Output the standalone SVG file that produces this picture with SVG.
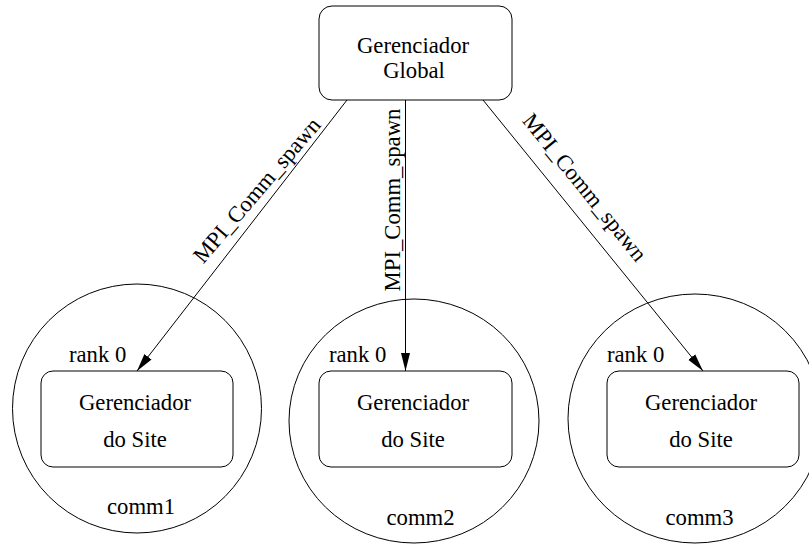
<svg xmlns="http://www.w3.org/2000/svg" width="809" height="546" viewBox="0 0 809 546">
  <style>
    .shape { fill: none; stroke: #000; stroke-width: 1; }
    .box { fill: #fff; stroke: #000; stroke-width: 1; }
    .edge { fill: none; stroke: #000; stroke-width: 1; }
    .lbl { font-family: 'Liberation Serif', 'DejaVu Serif', serif; font-size: 22.7px; fill: #000; }
    .c { text-anchor: middle; }
  </style>
  <defs>
    <marker id="arrow" viewBox="0 0 18 10" refX="18" refY="5" markerWidth="18" markerHeight="10" markerUnits="userSpaceOnUse" orient="auto">
      <path d="M0,0.5 L18,5 L0,9.5 Z" fill="#000"/>
    </marker>
  </defs>
  <rect width="809" height="546" fill="#fff"/>

  <g font-family="Liberation Serif, serif" class="lbl">
  <!-- communicator domains -->
  <g id="comm1">
    <ellipse class="shape" cx="137" cy="408.5" rx="124.5" ry="124.5"/>
    <text x="69" y="362">rank 0</text>
    <text class="c" x="141" y="514">comm1</text>
  </g>
  <g id="comm2">
    <ellipse class="shape" cx="414" cy="421" rx="125" ry="122"/>
    <text x="329" y="362">rank 0</text>
    <text class="c" x="420.5" y="525">comm2</text>
  </g>
  <g id="comm3">
    <ellipse class="shape" cx="695" cy="418.5" rx="127" ry="124.5"/>
    <text x="607" y="362">rank 0</text>
    <text class="c" x="699.5" y="525">comm3</text>
  </g>

  <!-- global manager -->
  <g id="global">
    <rect class="box" x="319" y="6" width="193" height="94" rx="13" ry="13"/>
    <text class="c" x="413" y="52.5">Gerenciador</text>
    <text class="c" x="414" y="78">Global</text>
  </g>

  <!-- site managers -->
  <g id="site1">
    <rect class="box" x="41" y="371" width="192" height="96" rx="12" ry="12"/>
    <text class="c" x="135" y="410">Gerenciador</text>
    <text class="c" x="135" y="447">do Site</text>
  </g>
  <g id="site2">
    <rect class="box" x="319" y="371" width="193" height="96" rx="12" ry="12"/>
    <text class="c" x="413" y="410">Gerenciador</text>
    <text class="c" x="413" y="447">do Site</text>
  </g>
  <g id="site3">
    <rect class="box" x="607" y="371" width="192" height="96" rx="12" ry="12"/>
    <text class="c" x="701" y="410">Gerenciador</text>
    <text class="c" x="701" y="447">do Site</text>
  </g>

  <!-- spawn connectors -->
  <g id="connectors">
    <line class="edge" x1="347" y1="100" x2="137" y2="371" marker-end="url(#arrow)"/>
    <line class="edge" x1="405.5" y1="100" x2="405.5" y2="371" marker-end="url(#arrow)"/>
    <line class="edge" x1="483" y1="100" x2="703" y2="371" marker-end="url(#arrow)"/>
    <text class="c" transform="translate(262.5,195) rotate(-49.5)">MPI_Comm_spawn</text>
    <text class="c" transform="translate(400,200) rotate(-90)">MPI_Comm_spawn</text>
    <text class="c" transform="translate(579,192) rotate(51)">MPI_Comm_spawn</text>
  </g>
  </g>
</svg>
